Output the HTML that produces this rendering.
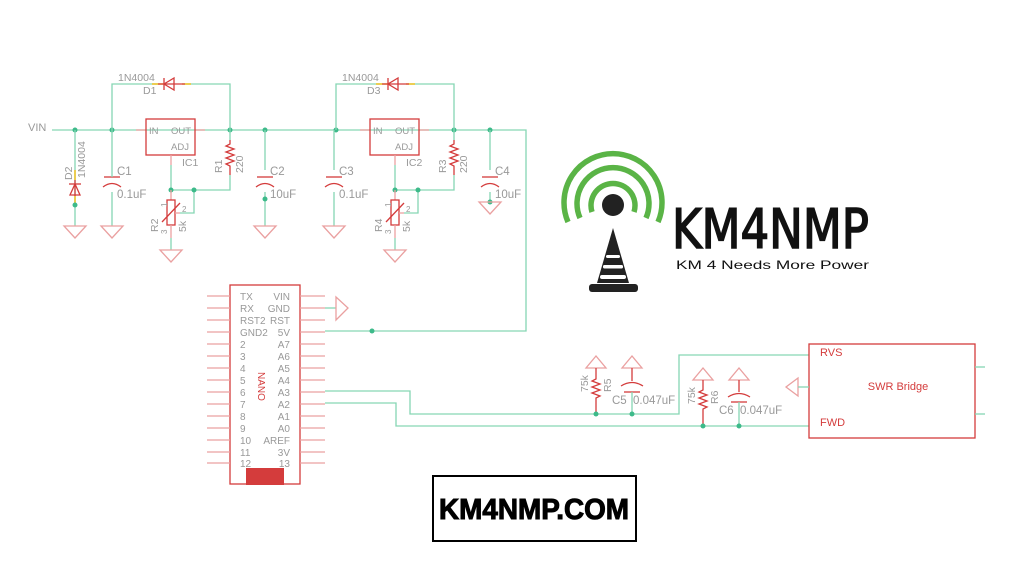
<!DOCTYPE html>
<html><head><meta charset="utf-8"><style>
html,body{margin:0;padding:0;background:#fff;}
svg{display:block;font-family:"Liberation Sans",sans-serif;}
.w{stroke:#86d6b4;stroke-width:1.3;fill:none;}
.r{stroke:#d43c3c;stroke-width:1.3;fill:none;}
.rp{stroke:#eaa0a0;stroke-width:1.3;fill:none;}
.g{fill:#999;font-size:10.5px;}
.rt{fill:#d43c3c;}
.dot{fill:#3dba8a;}
</style></head><body>
<svg width="1023" height="585" viewBox="0 0 1023 585">
<text x="28" y="131" class="g" style="font-size:11px">VIN</text>
<polyline class="w" points="52,130 526,130 526,331 325,331"/>
<circle class="dot" cx="372" cy="331" r="2.5"/>
<circle class="dot" cx="75" cy="130" r="2.5"/>
<line class="w" x1="75" y1="130" x2="75" y2="226"/>
<line x1="75" y1="170" x2="75" y2="180" stroke="#f0c020" stroke-width="1.5"/>
<line x1="75" y1="196" x2="75" y2="206" stroke="#f0c020" stroke-width="1.5"/>
<polygon points="70,195 80,195 75,184" class="r"/>
<line class="r" x1="69" y1="184" x2="81" y2="184"/>
<line class="r" x1="75" y1="180" x2="75" y2="196"/>
<circle class="dot" cx="75" cy="205" r="2.5"/>
<text class="g" transform="translate(72,180) rotate(-90)">D2</text>
<text class="g" transform="translate(85,178) rotate(-90)">1N4004</text>
<polygon class="rp" points="64,226 86,226 75,238"/>

<g id="reg">
<circle class="dot" cx="112" cy="130" r="2.5"/>
<circle class="dot" cx="230" cy="130" r="2.5"/>
<circle class="dot" cx="265" cy="130" r="2.5"/>
<polyline class="w" points="112,130 112,84 158,84"/>
<polyline class="w" points="185,84 230,84 230,140"/>
<line x1="152" y1="84" x2="164" y2="84" stroke="#f0c020" stroke-width="1.5"/>
<line x1="182" y1="84" x2="191" y2="84" stroke="#f0c020" stroke-width="1.5"/>
<line class="r" x1="158" y1="84" x2="185" y2="84"/>
<polygon class="r" points="174,78 174,90 164,84"/>
<line class="r" x1="164" y1="78" x2="164" y2="90"/>
<text x="118" y="81" class="g">1N4004</text>
<text x="143" y="94" class="g">D1</text>
<line class="rp" x1="136" y1="130" x2="146" y2="130"/>
<line class="rp" x1="195" y1="130" x2="205" y2="130"/>
<rect x="146" y="119" width="49" height="36" class="r" stroke-width="2"/>
<text x="149" y="134" class="g" style="font-size:9.5px">IN</text>
<text x="171" y="134" class="g" style="font-size:9.5px">OUT</text>
<text x="171" y="150" class="g" style="font-size:9.5px">ADJ</text>
<text x="182" y="166" class="g">IC1</text>
<line class="rp" x1="171" y1="155" x2="171" y2="165"/>
<line class="w" x1="171" y1="165" x2="171" y2="190"/>
<polyline class="w" points="171,190 230,190 230,175"/>
<polyline class="w" points="194,190 194,213 180,213"/>
<circle class="dot" cx="171" cy="190" r="2.5"/>
<circle class="dot" cx="194" cy="190" r="2.5"/>
<polyline class="r" points="230,140 230,144 226,146 234,149 226,152 234,155 226,158 234,161 226,164 230,166 230,175"/>
<text class="g" transform="translate(222,173) rotate(-90)">R1</text>
<text class="g" transform="translate(243,173) rotate(-90)">220</text>
<line class="rp" x1="171" y1="190" x2="171" y2="200"/>
<rect x="167" y="200" width="8" height="25" class="r" stroke-width="1.5"/>
<line class="r" x1="162" y1="222" x2="180" y2="203"/>
<line class="rp" x1="175" y1="213" x2="180" y2="213"/>
<line class="rp" x1="171" y1="225" x2="171" y2="238"/>
<line class="w" x1="171" y1="238" x2="171" y2="250"/>
<polygon class="rp" points="160,250 182,250 171,262"/>
<text class="g" style="font-size:8px" transform="translate(167,207) rotate(-90)">1</text>
<text class="g" style="font-size:8px" x="182" y="212">2</text>
<text class="g" style="font-size:8px" transform="translate(167,234) rotate(-90)">3</text>
<text class="g" transform="translate(158,232) rotate(-90)">R2</text>
<text class="g" transform="translate(186,232) rotate(-90)">5k</text>
<line class="w" x1="112" y1="130" x2="112" y2="226"/>
<rect x="104" y="170" width="16" height="22" fill="#fff"/>
<line class="r" x1="104" y1="177" x2="120" y2="177" stroke-width="1.8"/>
<path class="r" d="M103,187 Q112,180 121,187" stroke-width="1.8"/>
<line class="w" x1="112" y1="177" x2="112" y2="170"/>
<text x="117" y="175" class="g" style="font-size:11.5px">C1</text>
<text x="117" y="198" class="g" style="font-size:11.5px">0.1uF</text>
<polygon class="rp" points="101,226 123,226 112,238"/>
</g>
<line class="w" x1="265" y1="130" x2="265" y2="226"/>
<rect x="257" y="170" width="16" height="22" fill="#fff"/>
<line class="r" x1="257" y1="177" x2="273" y2="177" stroke-width="1.8"/>
<path class="r" d="M256,187 Q265,180 274,187" stroke-width="1.8"/>
<circle class="dot" cx="265" cy="199" r="2.5"/>
<text x="270" y="175" class="g" style="font-size:11.5px">C2</text>
<text x="270" y="198" class="g" style="font-size:11.5px">10uF</text>
<polygon class="rp" points="254,226 276,226 265,238"/>

<g transform="translate(224,0)">
<circle class="dot" cx="112" cy="130" r="2.5"/>
<circle class="dot" cx="230" cy="130" r="2.5"/>
<circle class="dot" cx="266" cy="130" r="2.5"/>
<polyline class="w" points="112,130 112,84 158,84"/>
<polyline class="w" points="185,84 230,84 230,140"/>
<line x1="152" y1="84" x2="164" y2="84" stroke="#f0c020" stroke-width="1.5"/>
<line x1="182" y1="84" x2="191" y2="84" stroke="#f0c020" stroke-width="1.5"/>
<line class="r" x1="158" y1="84" x2="185" y2="84"/>
<polygon class="r" points="174,78 174,90 164,84"/>
<line class="r" x1="164" y1="78" x2="164" y2="90"/>
<text x="118" y="81" class="g">1N4004</text>
<text x="143" y="94" class="g">D3</text>
<line class="rp" x1="136" y1="130" x2="146" y2="130"/>
<line class="rp" x1="195" y1="130" x2="205" y2="130"/>
<rect x="146" y="119" width="49" height="36" class="r" stroke-width="2"/>
<text x="149" y="134" class="g" style="font-size:9.5px">IN</text>
<text x="171" y="134" class="g" style="font-size:9.5px">OUT</text>
<text x="171" y="150" class="g" style="font-size:9.5px">ADJ</text>
<text x="182" y="166" class="g">IC2</text>
<line class="rp" x1="171" y1="155" x2="171" y2="165"/>
<line class="w" x1="171" y1="165" x2="171" y2="190"/>
<polyline class="w" points="171,190 230,190 230,175"/>
<polyline class="w" points="194,190 194,213 180,213"/>
<circle class="dot" cx="171" cy="190" r="2.5"/>
<circle class="dot" cx="194" cy="190" r="2.5"/>
<polyline class="r" points="230,140 230,144 226,146 234,149 226,152 234,155 226,158 234,161 226,164 230,166 230,175"/>
<text class="g" transform="translate(222,173) rotate(-90)">R3</text>
<text class="g" transform="translate(243,173) rotate(-90)">220</text>
<line class="rp" x1="171" y1="190" x2="171" y2="200"/>
<rect x="167" y="200" width="8" height="25" class="r" stroke-width="1.5"/>
<line class="r" x1="162" y1="222" x2="180" y2="203"/>
<line class="rp" x1="175" y1="213" x2="180" y2="213"/>
<line class="rp" x1="171" y1="225" x2="171" y2="238"/>
<line class="w" x1="171" y1="238" x2="171" y2="250"/>
<polygon class="rp" points="160,250 182,250 171,262"/>
<text class="g" style="font-size:8px" transform="translate(167,207) rotate(-90)">1</text>
<text class="g" style="font-size:8px" x="182" y="212">2</text>
<text class="g" style="font-size:8px" transform="translate(167,234) rotate(-90)">3</text>
<text class="g" transform="translate(158,232) rotate(-90)">R4</text>
<text class="g" transform="translate(186,232) rotate(-90)">5k</text>
<line class="w" x1="110" y1="130" x2="110" y2="226"/>
<rect x="102" y="170" width="16" height="22" fill="#fff"/>
<line class="r" x1="102" y1="177" x2="118" y2="177" stroke-width="1.8"/>
<path class="r" d="M101,187 Q110,180 119,187" stroke-width="1.8"/>
<text x="115" y="175" class="g" style="font-size:11.5px">C3</text>
<text x="115" y="198" class="g" style="font-size:11.5px">0.1uF</text>
<polygon class="rp" points="99,226 121,226 110,238"/>
<line class="w" x1="266" y1="130" x2="266" y2="202"/>
<rect x="258" y="170" width="16" height="22" fill="#fff"/>
<line class="r" x1="258" y1="177" x2="274" y2="177" stroke-width="1.8"/>
<path class="r" d="M257,187 Q266,180 275,187" stroke-width="1.8"/>
<circle class="dot" cx="266" cy="202" r="2.5"/>
<text x="271" y="175" class="g" style="font-size:11.5px">C4</text>
<text x="271" y="198" class="g" style="font-size:11.5px">10uF</text>
<polygon class="rp" points="255,202 277,202 266,214"/>
</g>

<rect x="230" y="285" width="70" height="199" class="r" stroke-width="1.5"/>
<rect x="246" y="468" width="38" height="17" fill="#d43c3c"/>
<g class="rp">
<path d="M207,296h23M207,308h23M207,320h23M207,332h23M207,344h23M207,356h23M207,368h23M207,380h23M207,392h23M207,404h23M207,416h23M207,428h23M207,440h23M207,452h23M207,463h23"/>
<path d="M300,296h25M300,308h25M300,320h25M300,332h25M300,344h25M300,356h25M300,368h25M300,380h25M300,392h25M300,404h25M300,416h25M300,428h25M300,440h25M300,452h25M300,463h25"/>
</g>
<g class="g" style="font-size:10px">
<text x="240" y="300">TX</text><text x="240" y="312">RX</text><text x="240" y="324">RST2</text><text x="240" y="336">GND2</text>
<text x="240" y="348">2</text><text x="240" y="360">3</text><text x="240" y="372">4</text><text x="240" y="384">5</text><text x="240" y="396">6</text><text x="240" y="408">7</text><text x="240" y="420">8</text><text x="240" y="432">9</text><text x="240" y="444">10</text><text x="240" y="456">11</text><text x="240" y="467">12</text>
</g>
<g class="g" style="font-size:10px" text-anchor="end">
<text x="290" y="300">VIN</text><text x="290" y="312">GND</text><text x="290" y="324">RST</text><text x="290" y="336">5V</text>
<text x="290" y="348">A7</text><text x="290" y="360">A6</text><text x="290" y="372">A5</text><text x="290" y="384">A4</text><text x="290" y="396">A3</text><text x="290" y="408">A2</text><text x="290" y="420">A1</text><text x="290" y="432">A0</text><text x="290" y="444">AREF</text><text x="290" y="456">3V</text><text x="290" y="467">13</text>
</g>
<text class="rt" style="font-size:10px" transform="translate(258,372) rotate(90)">NANO</text>
<line class="w" x1="325" y1="308" x2="336" y2="308"/>
<polygon class="rp" points="336,297 336,320 348,308"/>
<polyline class="w" points="325,391 410,391 410,414 679,414 679,355 809,355"/>
<polyline class="w" points="325,403 396,403 396,426 809,426"/>
<polygon class="rp" points="586,368 606,368 596,356"/>
<polyline class="r" points="596,368 596,379 592,381 600,384 592,387 600,390 592,393 600,396 596,398 596,414"/>
<circle class="dot" cx="596" cy="414" r="2.5"/>
<text class="g" transform="translate(588,392) rotate(-90)">75k</text>
<text class="g" transform="translate(611,392) rotate(-90)">R5</text>
<polygon class="rp" points="622,368 642,368 632,356"/>
<line class="r" x1="632" y1="368" x2="632" y2="381"/>
<path class="r" d="M621,386 Q632,379 643,386" stroke-width="1.8"/>
<line class="r" x1="624" y1="392" x2="640" y2="392" stroke-width="1.8"/>
<line class="w" x1="632" y1="392" x2="632" y2="414"/>
<circle class="dot" cx="632" cy="414" r="2.5"/>
<text x="612" y="404" class="g" style="font-size:11.5px">C5</text>
<text x="633" y="404" class="g" style="font-size:11.5px">0.047uF</text>
<polygon class="rp" points="693,380 713,380 703,368"/>
<polyline class="r" points="703,380 703,390 699,392 707,395 699,398 707,401 699,404 707,407 703,409 703,426"/>
<circle class="dot" cx="703" cy="426" r="2.5"/>
<text class="g" transform="translate(695,404) rotate(-90)">75k</text>
<text class="g" transform="translate(718,404) rotate(-90)">R6</text>
<polygon class="rp" points="729,380 749,380 739,368"/>
<line class="r" x1="739" y1="380" x2="739" y2="392"/>
<path class="r" d="M728,397 Q739,390 750,397" stroke-width="1.8"/>
<line class="r" x1="731" y1="402" x2="747" y2="402" stroke-width="1.8"/>
<line class="w" x1="739" y1="402" x2="739" y2="426"/>
<circle class="dot" cx="739" cy="426" r="2.5"/>
<text x="719" y="414" class="g" style="font-size:11.5px">C6</text>
<text x="740" y="414" class="g" style="font-size:11.5px">0.047uF</text>
<rect x="809" y="344" width="166" height="94" class="r" stroke-width="1"/>
<text x="820" y="356" class="rt" style="font-size:11px">RVS</text>
<text x="820" y="426" class="rt" style="font-size:11px">FWD</text>
<text x="898" y="390" class="rt" style="font-size:11px" text-anchor="middle">SWR Bridge</text>
<polygon class="rp" points="798,378 798,396 786,387"/>
<line class="w" x1="798" y1="387" x2="809" y2="387"/>
<line class="w" x1="975" y1="367" x2="985" y2="367"/>
<line class="w" x1="975" y1="414" x2="985" y2="414"/>

<g fill="none" stroke="#5ab446" stroke-width="5.5">
<path d="M592,212 A22,22 0 1 1 634,212"/>
<path d="M580,218 A36,36 0 1 1 646,218"/>
<path d="M568,222 A49,49 0 1 1 658,222"/>
</g>
<circle cx="613" cy="205" r="11" fill="#222"/>
<polygon points="613,228 597,283 629,283" fill="#222"/>
<rect x="606" y="255" width="14" height="3" rx="1.5" fill="#fff"/>
<rect x="603" y="265" width="20" height="3.5" rx="1.5" fill="#fff"/>
<rect x="600" y="275" width="26" height="4" rx="2" fill="#fff"/>
<rect x="589" y="284" width="49" height="8" rx="3" fill="#222"/>
<text x="672" y="248" font-size="54" fill="#111" stroke="#111" stroke-width="1.6" textLength="197" lengthAdjust="spacingAndGlyphs" style="font-family:'DejaVu Sans',sans-serif;">KM4NMP</text>
<text x="676" y="269" font-size="12" fill="#111" textLength="193" lengthAdjust="spacingAndGlyphs">KM 4 Needs More Power</text>

<rect x="433" y="476" width="203" height="65" fill="none" stroke="#000" stroke-width="2"/>
<text x="534" y="519" text-anchor="middle" font-size="29" font-weight="bold" fill="#000" textLength="190" lengthAdjust="spacingAndGlyphs" stroke="#000" stroke-width="1">KM4NMP.COM</text>
</svg>
</body></html>
